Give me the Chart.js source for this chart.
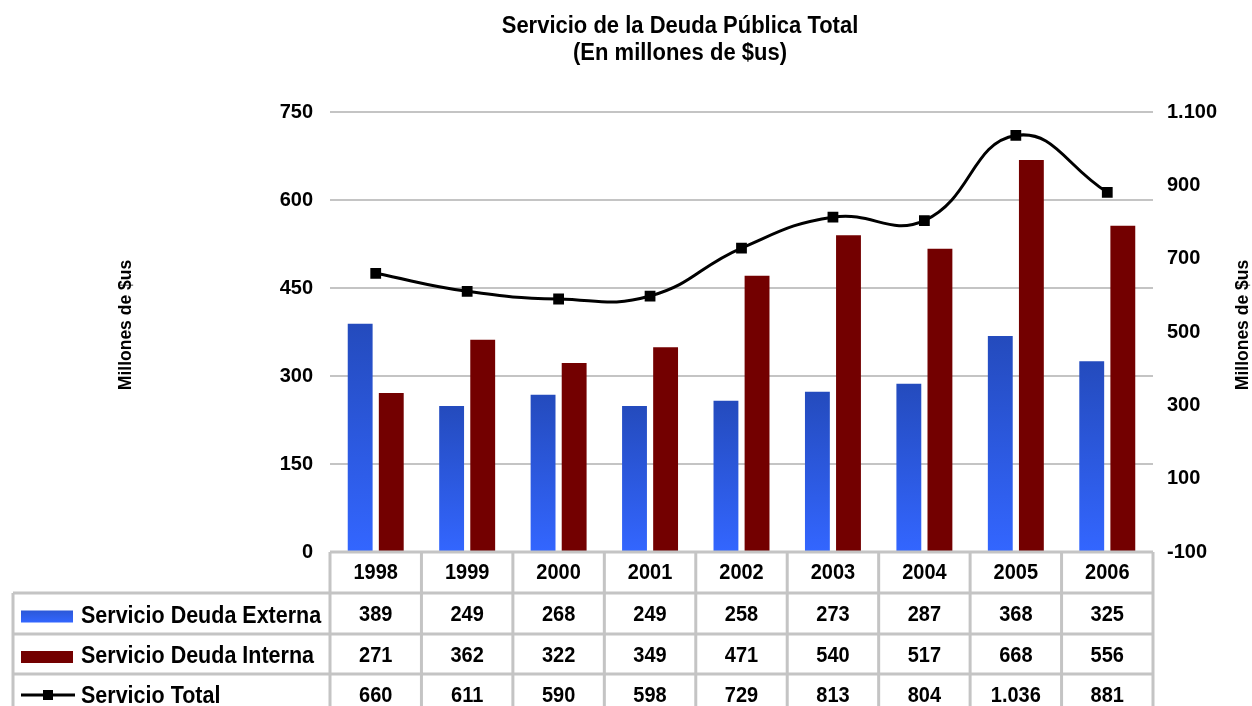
<!DOCTYPE html>
<html>
<head>
<meta charset="utf-8">
<title>Servicio de la Deuda Pública Total</title>
<script src="https://cdn.jsdelivr.net/npm/chart.js@4"></script>
<style>
  html, body { margin: 0; padding: 0; background: #fff; }
  #wrap { position: relative; width: 1252px; height: 706px; }
</style>
</head>
<body>
<div id="wrap"><canvas id="deuda" width="1252" height="706"></canvas></div>
<script>
// Servicio de la deuda pública, millones de $us
const years = ["1998", "1999", "2000", "2001", "2002", "2003", "2004", "2005", "2006"];
const externa = [389, 249, 268, 249, 258, 273, 287, 368, 325];
const interna = [271, 362, 322, 349, 471, 540, 517, 668, 556];
const total = [660, 611, 590, 598, 729, 813, 804, 1036, 881];

const seriesNames = ["Servicio Deuda Externa", "Servicio Deuda Interna", "Servicio Total"];

const FAMILY = "'Liberation Sans', Arial, sans-serif";
const GRID = "#c4c4c4";
const RED = "#730000";

function fmt(v) {
  return String(v).replace(/\B(?=(\d{3})+(?!\d))/g, ".");
}

// bold text, slightly taller than wide
function label(c, text, x, y, size, rot) {
  c.save();
  c.translate(x, y);
  if (rot) c.rotate(rot);
  c.scale(1, 1.08);
  c.font = "bold " + size + "px " + FAMILY;
  c.fillText(text, 0, 0);
  c.restore();
}

function blueFill(ctx) {
  const chart = ctx.chart;
  if (!chart.chartArea || ctx.parsed == null) return "#3060f0";
  const y = chart.scales.y;
  const top = y.getPixelForValue(ctx.parsed.y);
  const bottom = y.getPixelForValue(0);
  const g = chart.ctx.createLinearGradient(0, top, 0, bottom);
  g.addColorStop(0, "#244bbd");
  g.addColorStop(1, "#3366ff");
  return g;
}

// titles, axis titles and the data table under the plot
const tablePlugin = {
  id: "tabla",
  afterDraw(chart) {
    const c = chart.ctx;
    const area = chart.chartArea;
    const x = chart.scales.x;
    const step = (area.right - area.left) / years.length;
    const rows = [552, 593, 634, 674, 714];
    const legendLeft = 13;

    c.save();
    c.fillStyle = "#000";
    c.textAlign = "center";
    c.textBaseline = "alphabetic";
    label(c, "Servicio de la Deuda Pública Total", 680, 33, 22);
    label(c, "(En millones de $us)", 680, 60, 22);

    c.textBaseline = "middle";
    label(c, "Millones de $us", 126, 325, 17.5, -Math.PI / 2);
    label(c, "Millones de $us", 1243, 325, 17.5, -Math.PI / 2);

    // grid of the table
    c.strokeStyle = GRID;
    c.lineWidth = 3;
    c.beginPath();
    c.moveTo(area.left, rows[0]);
    c.lineTo(area.right, rows[0]);
    for (let r = 1; r < 4; r++) {
      c.moveTo(legendLeft, rows[r]);
      c.lineTo(area.right, rows[r]);
    }
    for (let i = 0; i <= years.length; i++) {
      const xx = area.left + i * step;
      c.moveTo(xx, rows[0]);
      c.lineTo(xx, 706);
    }
    c.moveTo(legendLeft, rows[1]);
    c.lineTo(legendLeft, 706);
    c.stroke();

    // years and values
    const values = [externa, interna, total];
    years.forEach((yr, i) => {
      const cx = x.getPixelForValue(i);
      label(c, yr, cx, (rows[0] + rows[1]) / 2 + 1, 20);
      values.forEach((arr, r) => {
        label(c, fmt(arr[i]), cx, (rows[r + 1] + rows[r + 2]) / 2 + 2, 20);
      });
    });

    // legend keys
    c.textAlign = "left";
    const ky = [(rows[1] + rows[2]) / 2 + 3, (rows[2] + rows[3]) / 2 + 3, 697];
    const g = c.createLinearGradient(0, ky[0] - 6, 0, ky[0] + 6);
    g.addColorStop(0, "#2c58d8");
    g.addColorStop(1, "#3366ff");
    c.fillStyle = g;
    c.fillRect(21, ky[0] - 6, 52, 12);
    c.fillStyle = RED;
    c.fillRect(21, ky[1] - 6, 52, 12);
    c.strokeStyle = "#000";
    c.lineWidth = 3;
    c.beginPath();
    c.moveTo(21, 695);
    c.lineTo(75, 695);
    c.stroke();
    c.fillStyle = "#000";
    c.fillRect(43, 690, 10, 10);
    seriesNames.forEach((n, r) => label(c, n, 81, ky[r], 21.5));
    c.restore();
  }
};

const tickFont = { family: FAMILY, size: 20, weight: "bold" };

new Chart(document.getElementById("deuda"), {
  type: "bar",
  data: {
    labels: years,
    datasets: [
      {
        type: "line",
        label: seriesNames[2],
        data: total,
        yAxisID: "y1",
        borderColor: "#000",
        borderWidth: 3,
        tension: 0.45,
        pointStyle: "rect",
        pointRadius: 5.5,
        pointBackgroundColor: "#000",
        pointBorderColor: "#000",
        order: 0
      },
      {
        label: seriesNames[0],
        data: externa,
        yAxisID: "y",
        backgroundColor: blueFill,
        categoryPercentage: 0.68,
        barPercentage: 0.8,
        order: 1
      },
      {
        label: seriesNames[1],
        data: interna,
        yAxisID: "y",
        backgroundColor: RED,
        categoryPercentage: 0.68,
        barPercentage: 0.8,
        order: 1
      }
    ]
  },
  options: {
    responsive: false,
    animation: false,
    layout: { padding: { top: 112, bottom: 154, left: 0, right: 0 } },
    plugins: {
      legend: { display: false },
      title: { display: false },
      tooltip: { enabled: false }
    },
    scales: {
      x: { display: false, grid: { offset: true } },
      y: {
        position: "left",
        min: 0,
        max: 750,
        ticks: { stepSize: 150, color: "#000", font: tickFont, padding: 17 },
        grid: { color: GRID, lineWidth: 2, drawTicks: false },
        border: { display: false },
        afterFit: (s) => { s.width = 330; }
      },
      y1: {
        position: "right",
        min: -100,
        max: 1100,
        ticks: { stepSize: 200, color: "#000", font: tickFont, padding: 14, callback: (v) => fmt(v) },
        grid: { drawOnChartArea: false, drawTicks: false },
        border: { display: false },
        afterFit: (s) => { s.width = 99; }
      }
    }
  },
  plugins: [tablePlugin]
});
</script>
</body>
</html>
